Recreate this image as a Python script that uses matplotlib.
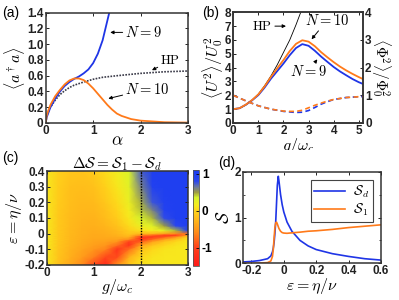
import numpy as np
import matplotlib
matplotlib.use("Agg")
import matplotlib.pyplot as plt
from matplotlib.colors import LinearSegmentedColormap, Normalize
from matplotlib.patches import Rectangle

plt.rcParams['font.family'] = ['Liberation Sans', 'DejaVu Sans']
plt.rcParams['mathtext.fontset'] = 'cm'
plt.rcParams['axes.unicode_minus'] = False

BLUE = '#1f35e6'
ORANGE = '#ff7a1a'

# ---------------- panel (a) data ----------------
alpha_hp = [0, 0.02, 0.05, 0.1, 0.2, 0.3, 0.4, 0.5, 0.6, 0.8, 1.0, 1.2, 1.5, 2.0, 2.5, 3.0]
n_hp = [0, 0.08, 0.14, 0.2, 0.29, 0.36, 0.41, 0.45, 0.48, 0.52, 0.555, 0.58, 0.6, 0.63, 0.65, 0.66]
alpha_n9 = [0, 0.02, 0.05, 0.1, 0.2, 0.3, 0.4, 0.5, 0.6, 0.7, 0.8, 0.9, 1.0, 1.1, 1.2, 1.3, 1.36]
n_n9 = [0, 0.07, 0.12, 0.2, 0.31, 0.4, 0.47, 0.52, 0.56, 0.59, 0.63, 0.68, 0.76, 0.88, 1.05, 1.3, 1.45]
alpha_n10 = [0, 0.02, 0.05, 0.1, 0.2, 0.3, 0.4, 0.5, 0.6, 0.7, 0.8, 0.9, 1.0, 1.1, 1.2, 1.3,
             1.4, 1.5, 1.6, 1.8, 2.0, 2.5, 3.0]
n_n10 = [0, 0.09, 0.15, 0.23, 0.34, 0.42, 0.49, 0.54, 0.565, 0.565, 0.545, 0.5, 0.44, 0.37,
         0.3, 0.23, 0.17, 0.12, 0.09, 0.05, 0.03, 0.01, 0.005]

# ---------------- panel (b) data ----------------
g_hp = [0, 0.25, 0.5, 0.75, 1.0, 1.25, 1.5, 1.75, 2.0, 2.25, 2.5, 2.75]
u_hp = [1.0, 1.05, 1.3, 1.65, 2.1, 2.7, 3.4, 4.2, 5.1, 6.0, 7.1, 8.3]
g_sol = [0, 0.25, 0.5, 0.75, 1.0, 1.25, 1.5, 1.75, 2.0, 2.25, 2.5, 2.75, 3.0, 3.25, 3.5,
         3.75, 4.0, 4.25, 4.5, 4.75, 5.0, 5.2]
u_n10 = [1.0, 1.07, 1.33, 1.66, 2.07, 2.65, 3.33, 3.95, 4.55, 5.2, 5.72, 5.98, 5.88, 5.55,
         5.12, 4.75, 4.4, 4.08, 3.8, 3.55, 3.32, 3.15]
u_n9 = [1.0, 1.07, 1.32, 1.64, 2.02, 2.57, 3.2, 3.75, 4.3, 4.9, 5.42, 5.7, 5.58, 5.22,
        4.8, 4.42, 4.05, 3.73, 3.45, 3.18, 2.95, 2.8]
g_dash = [0, 0.5, 1.0, 1.5, 2.0, 2.25, 2.5, 2.75, 3.0, 3.25, 3.5, 3.75, 4.0, 4.5, 5.0, 5.2]
phi_n10 = [1.0, 0.8, 0.62, 0.5, 0.43, 0.42, 0.42, 0.46, 0.55, 0.64, 0.72, 0.79, 0.85, 0.92, 0.95, 0.96]
phi_n9 = [1.0, 0.8, 0.62, 0.5, 0.42, 0.4, 0.38, 0.39, 0.45, 0.56, 0.68, 0.77, 0.85, 0.92, 0.95, 0.96]

# ---------------- panel (c) data ----------------
g_grid = [0, 0.25, 0.5, 0.75, 1.0, 1.25, 1.5, 1.75, 2.0, 2.25, 2.5, 2.75, 3.0]
eps_grid = [0.4, 0.3, 0.2, 0.15, 0.1, 0.05, 0.02, 0.0, -0.01, -0.02, -0.035, -0.05, -0.075,
            -0.1, -0.15, -0.2]
# each list: one g column, values from eps=0.4 (top) down to eps=-0.2
dS_columns = [
    [0.12, 0.12, 0.12, 0.12, 0.12, 0.12, 0.12, 0.12, 0.12, 0.12, 0.12, 0.12, 0.12, 0.12, 0.12, 0.12],
    [-0.03, -0.06, -0.08, -0.09, -0.10, -0.10, -0.10, -0.10, -0.10, -0.10, -0.10, -0.11, -0.12, -0.13, -0.14, -0.16],
    [-0.12, -0.17, -0.20, -0.21, -0.22, -0.23, -0.24, -0.24, -0.24, -0.25, -0.25, -0.26, -0.27, -0.29, -0.32, -0.37],
    [-0.14, -0.20, -0.24, -0.26, -0.28, -0.30, -0.31, -0.31, -0.32, -0.32, -0.33, -0.34, -0.36, -0.39, -0.46, -0.58],
    [-0.08, -0.16, -0.23, -0.26, -0.29, -0.32, -0.34, -0.35, -0.36, -0.36, -0.38, -0.40, -0.44, -0.50, -0.65, -0.95],
    [0.05, -0.03, -0.11, -0.16, -0.21, -0.27, -0.31, -0.33, -0.34, -0.35, -0.38, -0.42, -0.50, -0.62, -0.95, -1.30],
    [0.18, 0.11, 0.04, -0.01, -0.07, -0.15, -0.23, -0.27, -0.30, -0.33, -0.40, -0.50, -0.75, -1.15, -0.95, -0.55],
    [0.33, 0.28, 0.22, 0.17, 0.12, 0.04, -0.06, -0.13, -0.20, -0.30, -0.55, -1.00, -1.15, -0.75, -0.32, -0.12],
    [0.72, 0.60, 0.47, 0.42, 0.35, 0.22, 0.06, -0.25, -0.65, -1.05, -1.15, -0.85, -0.40, -0.15, 0.02, 0.08],
    [1.00, 0.95, 0.75, 0.60, 0.45, 0.30, 0.15, -0.28, -0.80, -1.10, -0.80, -0.45, -0.12, 0.02, 0.10, 0.12],
    [1.00, 1.00, 0.95, 0.90, 0.78, 0.50, 0.25, -0.45, -1.05, -0.90, -0.45, -0.15, 0.02, 0.10, 0.12, 0.12],
    [1.00, 1.00, 1.00, 1.00, 1.00, 0.80, 0.45, -0.60, -1.00, -0.55, -0.15, 0.02, 0.10, 0.12, 0.12, 0.12],
    [1.00, 1.00, 1.00, 1.00, 1.00, 1.00, 0.95, -0.75, -0.45, 0.00, 0.08, 0.12, 0.12, 0.12, 0.12, 0.12],
]
cbar_ticks = [-1, 0, 1]

# ---------------- panel (d) data ----------------
eps_d = [-0.25, -0.2, -0.15, -0.1, -0.08, -0.07, -0.065, -0.06, -0.055, -0.05, -0.045, -0.04,
         -0.034, -0.03, -0.02, -0.01, 0.0, 0.02, 0.05, 0.1, 0.15, 0.2, 0.3, 0.4, 0.5, 0.6]
S_d = [0.03, 0.04, 0.06, 0.1, 0.16, 0.25, 0.33, 0.45, 0.65, 0.9, 1.3, 1.7, 1.9, 1.8, 1.5,
       1.28, 1.12, 0.9, 0.7, 0.5, 0.38, 0.3, 0.21, 0.15, 0.1, 0.07]
S_1 = [0.0, 0.0, 0.005, 0.015, 0.05, 0.15, 0.3, 0.55, 0.78, 0.88, 0.9, 0.86, 0.8, 0.76,
       0.7, 0.67, 0.66, 0.655, 0.665, 0.68, 0.7, 0.71, 0.74, 0.78, 0.81, 0.84]

# ====================================================
fig = plt.figure(figsize=(3.99, 3.0), dpi=100)
W, H = 399.0, 300.0


def ax_at(x0, y0, x1, y1):
    return fig.add_axes([x0 / W, 1 - y1 / H, (x1 - x0) / W, (y1 - y0) / H])


TICKFS = 8.5
LABFS = 11.5
ANNFS = 10.5
TW = 'bold'


def style(ax, right=True):
    for s in ax.spines.values():
        s.set_linewidth(1.1)
        s.set_color('#333333')
    ax.tick_params(direction='in', length=2.5, width=0.7, labelsize=TICKFS, pad=1.5,
                   top=True, right=right, colors='#222222')
    for lab in ax.get_xticklabels() + ax.get_yticklabels():
        lab.set_fontweight(TW)


arr = dict(arrowstyle='-|>', color='k', lw=0.7, mutation_scale=5, shrinkA=0, shrinkB=0)

# ---------------- (a) ----------------
axa = ax_at(45.7, 12.7, 188, 123)
axa.plot(alpha_hp, n_hp, color='#3a3a48', lw=1.2, ls=(0, (1, 0.8)))
axa.plot(alpha_n9, n_n9, color=BLUE, lw=1.3)
axa.plot(alpha_n10, n_n10, color=ORANGE, lw=1.3)
axa.set_xlim(0, 3)
axa.set_ylim(0, 1.4)
axa.set_xticks([0, 1, 2, 3])
axa.set_yticks([0, 0.2, 0.4, 0.6, 0.8, 1.0, 1.2, 1.4])
axa.set_yticklabels(['0', '0.2', '0.4', '0.6', '0.8', '1.0', '1.2', '1.4'])
style(axa)
axa.set_xlabel(r'$\alpha$', fontsize=LABFS + 1, labelpad=-3)
axa.set_ylabel(r'$\langle a^\dagger a\rangle$', fontsize=LABFS, labelpad=0)
axa.annotate(r'$N=9$', xy=(1.36, 1.15), xytext=(1.68, 1.15), fontsize=ANNFS,
             va='center', ha='left', arrowprops=arr)
axa.annotate(r'$\mathrm{HP}$', xy=(2.24, 0.67), xytext=(2.42, 0.79), fontsize=ANNFS - 1,
             va='center', ha='left', arrowprops=arr)
axa.annotate(r'$N=10$', xy=(1.32, 0.31), xytext=(1.68, 0.43), fontsize=ANNFS,
             va='center', ha='left', arrowprops=arr)

# ---------------- (b) ----------------
axb = ax_at(233.3, 12.3, 363, 123)
axb.plot(g_hp, u_hp, color='k', lw=0.6)
axb.plot(g_sol, u_n9, color=BLUE, lw=1.3)
axb.plot(g_sol, u_n10, color=ORANGE, lw=1.3)
axb.set_xlim(0, 5.17)
axb.set_ylim(0, 8)
axb.set_xticks([0, 1, 2, 3, 4, 5])
axb.set_yticks(range(9))
style(axb, right=False)
axb.set_xlabel(r'$g/\omega_c$', fontsize=LABFS, labelpad=-1)
axb.set_ylabel(r'$\langle U^2\rangle/U_0^2$', fontsize=LABFS, labelpad=0)
axb2 = axb.twinx()
axb2.plot(g_dash, phi_n9, color=BLUE, lw=1.2, ls=(0, (3, 2)))
axb2.plot(g_dash, phi_n10, color=ORANGE, lw=1.2, ls=(0, (3, 2)))
axb2.set_ylim(0, 4)
axb2.set_yticks(range(5))
for s in axb2.spines.values():
    s.set_linewidth(1.1)
    s.set_color('#333333')
axb2.tick_params(direction='in', length=2.5, width=0.7, labelsize=TICKFS, pad=1.5,
                 colors='#222222')
for lab in axb2.get_yticklabels():
    lab.set_fontweight(TW)
axb2.set_ylabel(r'$\langle \Phi^2\rangle/\Phi_0^2$', fontsize=LABFS - 0.5, rotation=-90,
                labelpad=15)
axb.annotate(r'$\mathrm{HP}$', xy=(2.1, 7.0), xytext=(0.75, 7.0), fontsize=ANNFS - 1,
             va='center', ha='left', arrowprops=arr)
axb.annotate(r'$N=10$', xy=(3.12, 6.05), xytext=(2.85, 7.4), fontsize=ANNFS,
             va='center', ha='left', arrowprops=arr)
axb.annotate(r'$N=9$', xy=(3.35, 4.6), xytext=(2.25, 3.75), fontsize=ANNFS,
             va='center', ha='left', arrowprops=arr)

# ---------------- (c) ----------------
axc = ax_at(46.7, 171.3, 187.7, 264.7)
cmap = LinearSegmentedColormap.from_list('dS', [
    (0.000, '#ff1a1a'), (0.192, '#ff401a'), (0.346, '#ff8a1a'), (0.462, '#ffb21a'),
    (0.577, '#ffd41a'), (0.635, '#f6ec1e'), (0.712, '#d8f42a'), (0.769, '#9e9c42'),
    (0.827, '#6a78a0'), (0.885, '#2a46f0'), (1.000, '#1a3cf0')])
norm = Normalize(vmin=-1.5, vmax=1.1)
Z = np.array(dS_columns).T[::-1]
E = np.array(eps_grid)[::-1]
mesh = axc.pcolormesh(np.array(g_grid), E, Z, cmap=cmap, norm=norm, shading='gouraud')
axc.axvline(2.0, color='k', lw=1.0, ls=(0, (1, 1)))
axc.set_xlim(0, 3)
axc.set_ylim(-0.2, 0.4)
axc.set_xticks([0, 1, 2, 3])
axc.set_yticks([-0.2, -0.1, 0, 0.1, 0.2, 0.3, 0.4])
axc.set_yticklabels(['-0.2', '-0.1', '0', '0.1', '0.2', '0.3', '0.4'])
style(axc)
axc.set_xlabel(r'$g/\omega_c$', fontsize=LABFS, labelpad=-1)
axc.set_ylabel(r'$\varepsilon=\eta/\nu$', fontsize=LABFS, labelpad=0)
axc.set_title(r'$\Delta\mathcal{S}=\mathcal{S}_1-\mathcal{S}_d$', fontsize=LABFS - 0.5, pad=2)
cax = fig.add_axes([193 / W, 1 - 266 / H, 6 / W, 96 / H])
cb = fig.colorbar(mesh, cax=cax, ticks=cbar_ticks)
cb.ax.set_yticklabels(['-1', '0', '1'])
cb.ax.tick_params(direction='in', length=2, width=0.6, labelsize=TICKFS, pad=2)
for lab in cb.ax.get_yticklabels():
    lab.set_fontweight(TW)
cb.outline.set_linewidth(0.6)
cb.outline.set_edgecolor('#555555')

# ---------------- (d) ----------------
axd = ax_at(243.3, 171.7, 381, 263.3)
axd.plot(eps_d, S_d, color=BLUE, lw=1.2, label=r'$\mathcal{S}_d$')
axd.plot(eps_d, S_1, color=ORANGE, lw=1.2, label=r'$\mathcal{S}_1$')
axd.set_xlim(-0.25, 0.6)
axd.set_ylim(0, 2)
axd.set_xticks([-0.2, 0, 0.2, 0.4, 0.6])
axd.set_xticklabels(['-0.2', '0', '0.2', '0.4', '0.6'])
axd.set_yticks([0, 1, 2])
axd.set_yticks([0.5, 1.5], minor=True)
style(axd)
axd.tick_params(which='minor', direction='in', length=1.5, width=0.5, right=True)
axd.set_xlabel(r'$\varepsilon=\eta/\nu$', fontsize=LABFS, labelpad=-1)
axd.set_ylabel(r'$\mathcal{S}$', fontsize=LABFS + 1, labelpad=2)
leg = axd.legend(loc='upper right', fontsize=ANNFS - 0.5, fancybox=False, framealpha=1,
                 edgecolor='#444444', handlelength=2.2, borderpad=0.25, labelspacing=0.15,
                 handletextpad=0.6, borderaxespad=0.6)
leg.get_frame().set_linewidth(0.8)

# white patch clipping the (b) x-label, as in the composed original
fig.add_artist(Rectangle((215 / W, 1 - 160 / H), 184 / W, 10 / H, transform=fig.transFigure,
                         facecolor='white', edgecolor='none', zorder=5))

# panel labels
fig.text(2 / W, 1 - 13 / H, '(a)', fontsize=10, va='center', ha='left')
fig.text(202 / W, 1 - 13 / H, '(b)', fontsize=10, va='center', ha='left')
fig.text(2 / W, 1 - 158 / H, '(c)', fontsize=10, va='center', ha='left')
fig.text(218 / W, 1 - 163 / H, '(d)', fontsize=10, va='center', ha='left', zorder=6)

fig.savefig('out.png', dpi=100)
